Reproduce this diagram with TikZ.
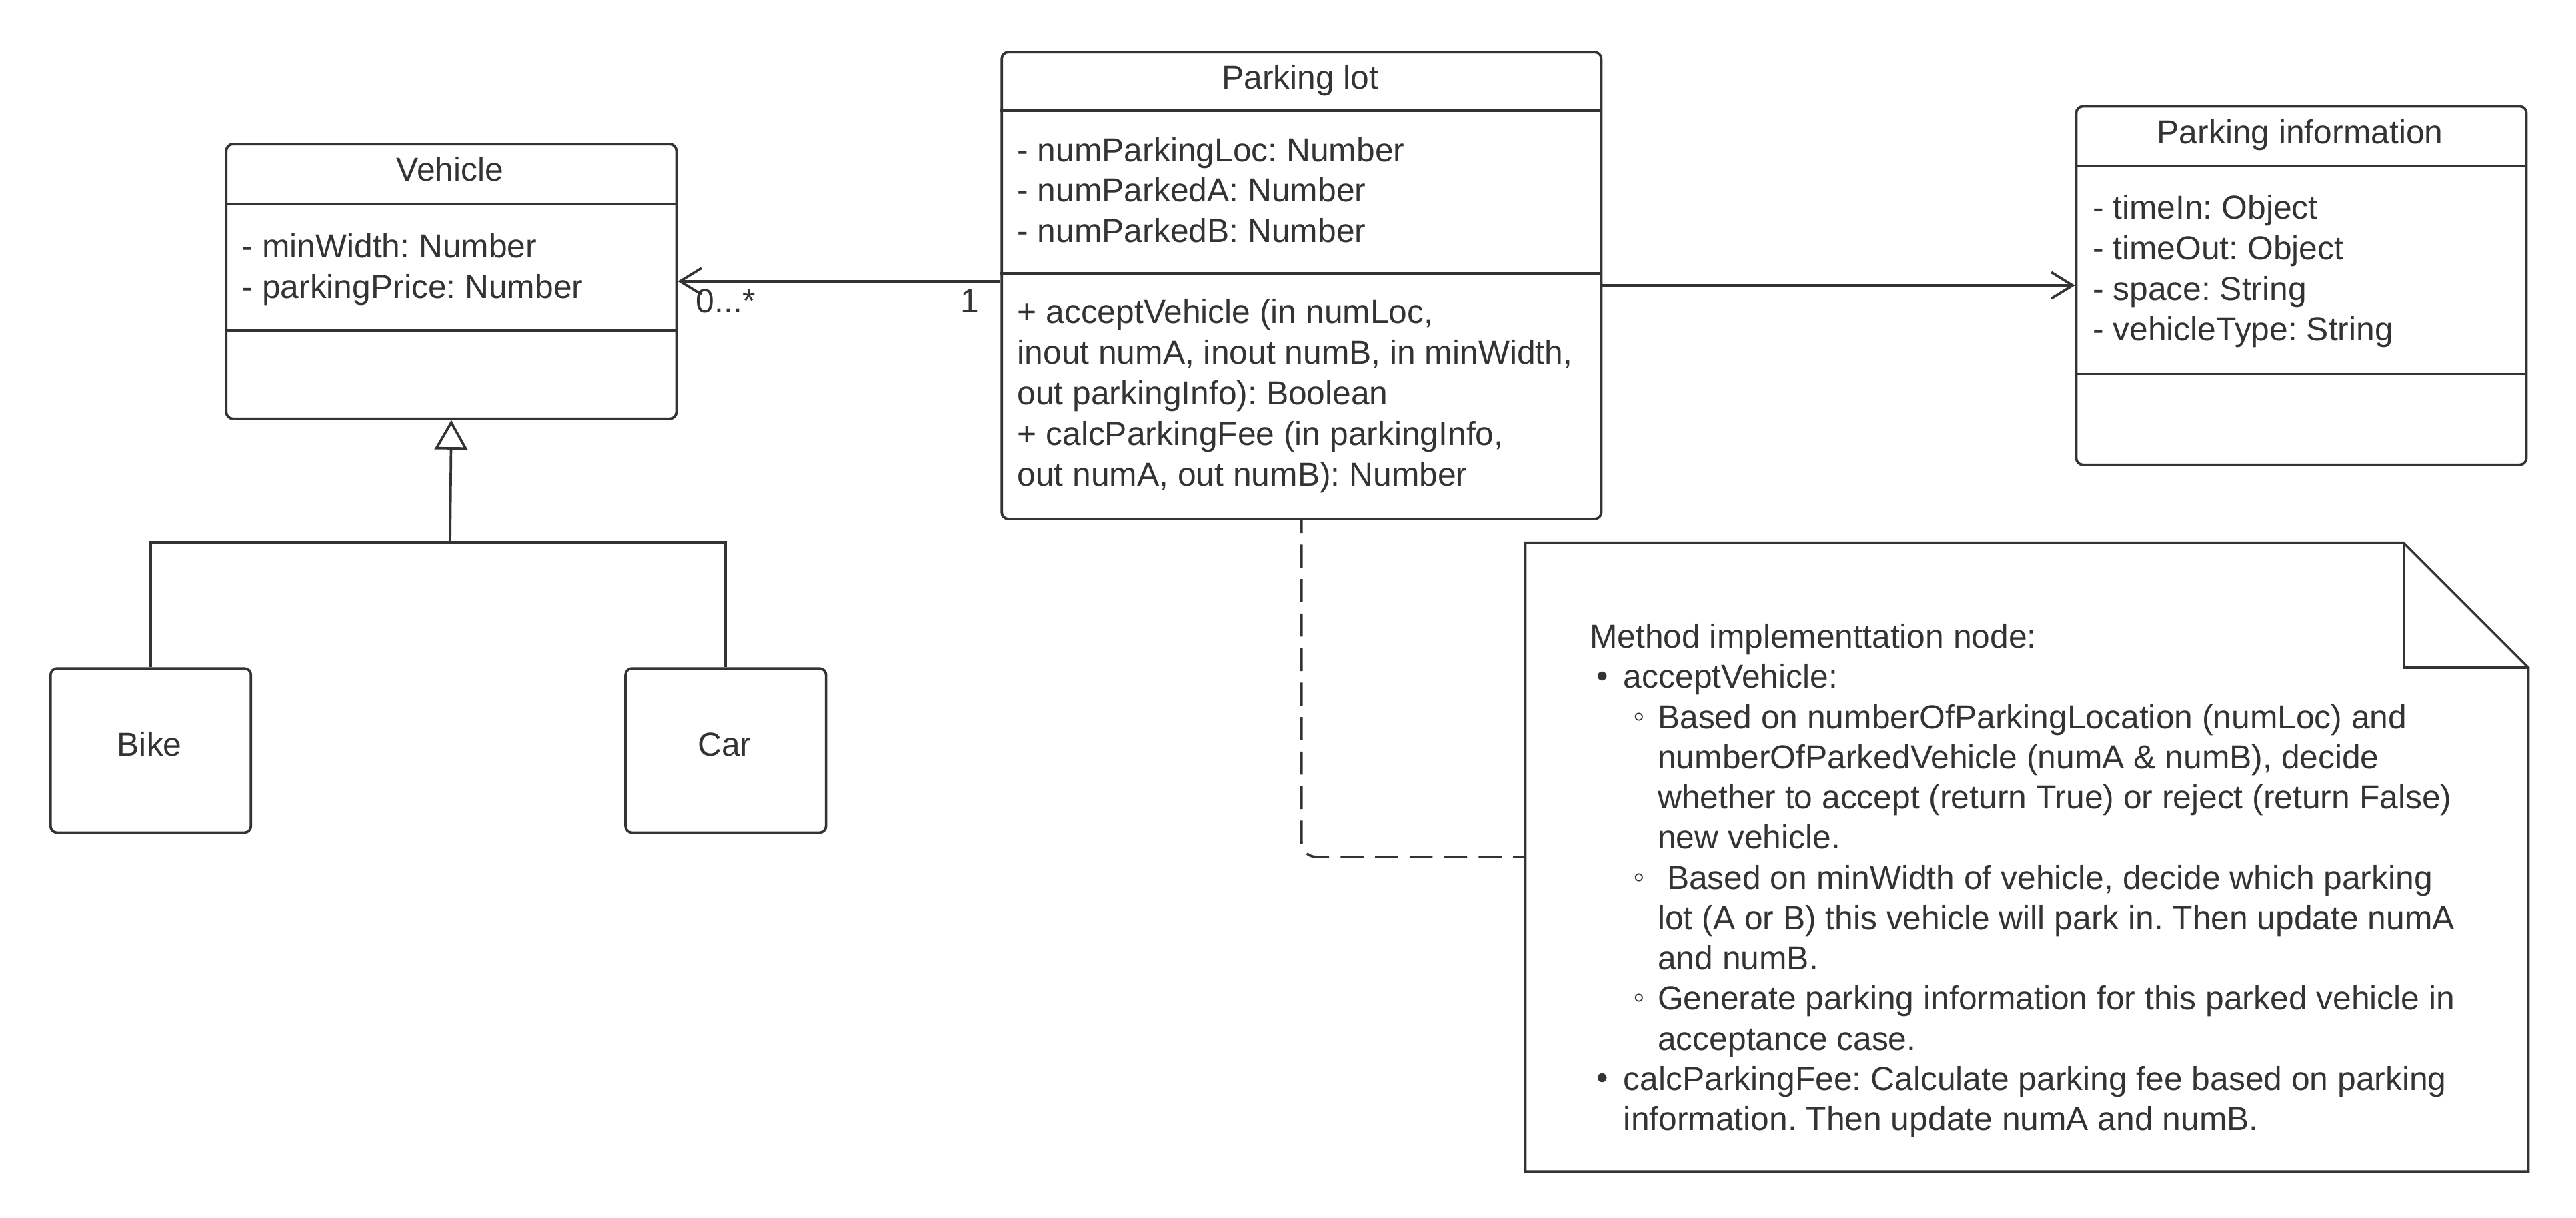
\documentclass[tikz,border=0pt]{standalone}
\usepackage{fontspec}
\setmainfont{Liberation Sans}
\usetikzlibrary{arrows.meta}
\definecolor{ink}{HTML}{333333}
\newcommand\firstln{\rule{0pt}{15pt}}
\frenchspacing
\begin{document}
\begin{tikzpicture}[x=1pt,y=-1pt,line width=1.5pt,color=ink,
  font=\fontsize{20.2}{24.45}\selectfont\frenchspacing,
  box/.style={draw,rounded corners=4pt,inner sep=0pt,anchor=north west},
  txt/.style={anchor=north west,inner sep=0pt,align=left},
  lbl/.style={anchor=base,inner sep=0pt},
  assoc/.style={-{Straight Barb[length=13pt,width=16pt]}},
  gen/.style={-{Triangle[open,length=18pt,width=20pt]}},
  dep/.style={dash pattern=on 14pt off 7pt,dash phase=6.1pt,rounded corners=9pt}]
\path[fill=white,use as bounding box] (0,0) rectangle (1568,741);

% Vehicle
\node[box,minimum width=274pt,minimum height=167pt] (veh) at (137,87) {};
\draw (137,124) -- (411,124);
\draw (137,201) -- (411,201);
\node[lbl] (vehT) at (274,110.25) {Vehicle};
\node[txt] (vehA) at (146.5,141.25) {\firstln- minWidth: Number\\- parkingPrice: Number};

% Parking lot
\node[box,minimum width=365pt,minimum height=284pt] (pl) at (609,31) {};
\draw (609,67.4) -- (974,67.4);
\draw (609,166.4) -- (974,166.4);
\node[lbl] (plT) at (791.5,54.25) {Parking lot};
\node[txt] (plA) at (618.5,82.75) {\firstln- numParkingLoc: Number\\- numParkedA: Number\\- numParkedB: Number};
\node[txt,font=\fontsize{20.2}{24.8}\selectfont\frenchspacing] (plM) at (618.5,180.95) {\firstln+ acceptVehicle (in numLoc,\\inout numA, inout numB, in minWidth,\\out parkingInfo): Boolean\\+ calcParkingFee (in parkingInfo,\\out numA, out numB): Number};

% Parking information
\node[box,minimum width=274pt,minimum height=218pt] (pi) at (1263,64) {};
\draw (1263,101) -- (1537,101);
\draw (1263,227.5) -- (1537,227.5);
\node[lbl] (piT) at (1400,87.65) {Parking information};
\node[txt,font=\fontsize{20.2}{24.6}\selectfont\frenchspacing] (piA) at (1273,117.75) {\firstln- timeIn: Object\\- timeOut: Object\\- space: String\\- vehicleType: String};

% Bike and Car
\node[box,minimum width=122pt,minimum height=100pt] (bike) at (30,406) {};
\node[lbl] (bikeT) at (91,460.25) {Bike};
\node[box,minimum width=122pt,minimum height=100pt] (car) at (380,406) {};
\node[lbl] (carT) at (441,460.25) {Car};

% Generalization
\coordinate (junc) at (274,330);
\draw (bike.north) |- (junc) -| (car.north);
\draw[gen] (junc) -- (veh.south);

% Associations
\draw[assoc] (pl.west |- veh.east) -- (veh.east);
\draw[assoc] (pl.east) -- (pi.west |- pl.east);
\node[anchor=base west,inner sep=0pt] (mulV) at (423,190.25) {0...*};
\node[lbl] (mulP) at (590.2,190.25) {1};

% Note
\node[minimum width=609pt,minimum height=381pt,inner sep=0pt,anchor=north west] (note) at (928.5,330.3) {};
\draw (note.north west) -- ([xshift=-76pt]note.north east) -- ([yshift=-76pt]note.north east) -- (note.south east) -- (note.south west) -- cycle;
\draw ([xshift=-76pt]note.north east) |- ([yshift=-76pt]note.north east);
\draw[dep] (pl.south) |- (note.west);

\node[txt] (nTitle) at (967,378.65) {\firstln Method implementtation node:};
\node[lbl] (nb1) at (975.5,418.1) {•};
\node[txt] (nt1) at (987.6,403.1) {\firstln acceptVehicle:};
\node[lbl] (ns1) at (997.8,442.55) {◦};
\node[txt] (nst1) at (1008.4,427.55) {\firstln Based on numberOfParkingLocation (numLoc) and\\numberOfParkedVehicle (numA \& numB), decide\\whether to accept (return True) or reject (return False)\\new vehicle.};
\node[lbl] (ns2) at (997.8,540.35) {◦};
\node[txt] (nst2) at (1008.4,525.35) {\firstln\hspace*{5.6pt}Based on minWidth of vehicle, decide which parking\\lot (A or B) this vehicle will park in. Then update numA\\and numB.};
\node[lbl] (ns3) at (997.8,613.7) {◦};
\node[txt] (nst3) at (1008.4,598.7) {\firstln Generate parking information for this parked vehicle in\\acceptance case.};
\node[lbl] (nb2) at (975.5,662.6) {•};
\node[txt] (nt2) at (987.6,647.6) {\firstln calcParkingFee: Calculate parking fee based on parking\\information. Then update numA and numB.};
\end{tikzpicture}
\end{document}
